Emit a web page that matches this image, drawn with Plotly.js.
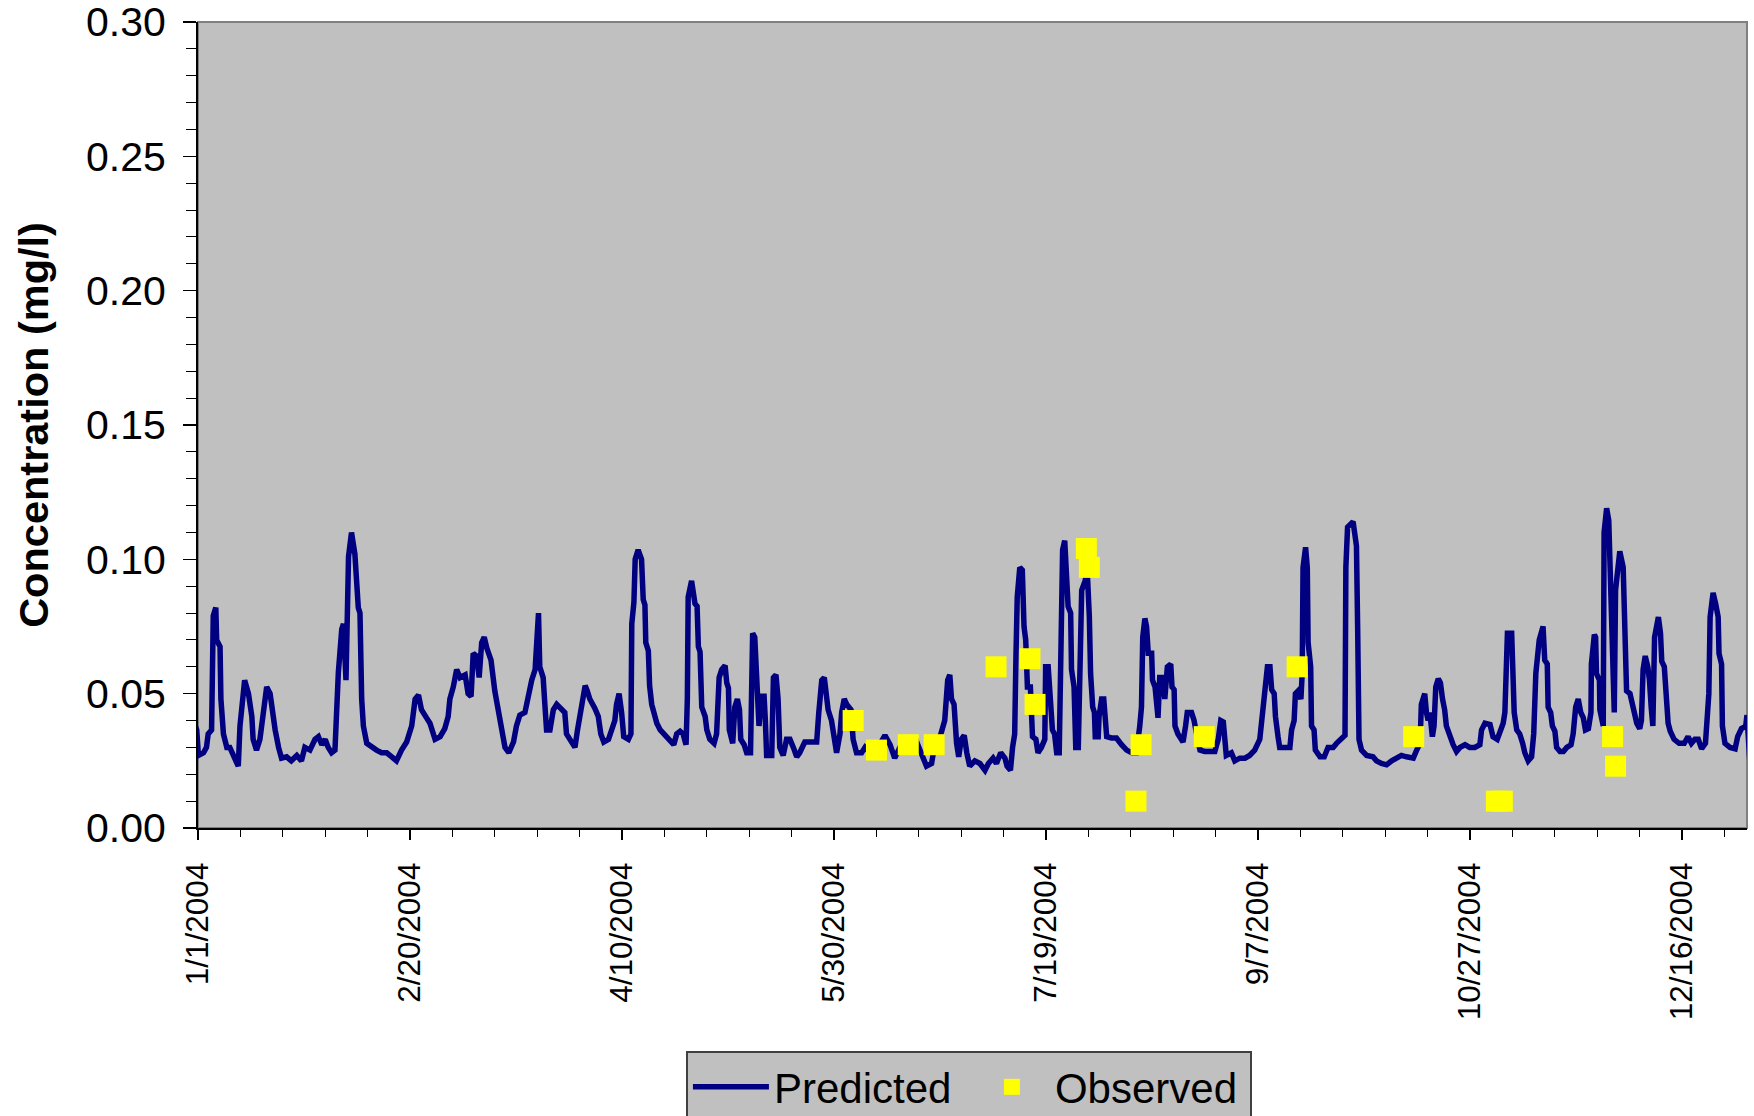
<!DOCTYPE html>
<html>
<head>
<meta charset="utf-8">
<script src="https://cdn.plot.ly/plotly-3.0.1.min.js"></script>
<style>
html,body{margin:0;padding:0;background:#ffffff;}
#chart{width:1754px;height:1116px;}
</style>
</head>
<body>
<div id="chart"></div>
<script>
// Predicted concentration: day offset from 1/1/2004 and value (mg/l)
const predDay = [
-1.9,-1.1,-0.3,0.1,1.3,2.0,2.4,3.2,3.4,3.6,4.2,4.4,5.2,5.4,6.0,6.8,7.5,8.7,9.5,9.9,
10.7,11.0,11.9,12.7,13.0,13.8,14.6,15.4,16.2,17.0,17.4,18.2,19.0,19.7,20.9,22.0,23.3,24.4,25.2,26.4,
27.6,28.4,29.2,30.0,30.7,31.5,32.3,32.7,33.1,33.9,34.3,34.9,35.5,36.2,37.0,37.8,38.2,38.6,39.0,39.8,
41.0,42.1,43.3,44.5,45.7,46.8,48.0,49.2,50.4,51.2,52.0,52.7,53.9,54.7,55.9,57.1,58.2,59.0,59.4,60.2,
61.0,61.8,63.0,63.7,64.4,64.9,65.7,66.3,66.9,67.5,68.1,69.1,70.0,70.8,71.6,72.4,73.3,74.4,75.1,75.9,
77.1,77.9,78.7,79.5,79.9,80.3,80.6,81.4,81.8,82.2,83.0,83.8,84.6,85.8,86.5,86.9,87.7,88.9,89.5,90.0,
90.9,91.3,91.8,92.4,93.6,94.4,95.0,95.7,96.8,97.5,98.3,98.7,99.3,99.9,100.4,101.5,102.1,102.3,102.8,103.1,
103.8,104.6,105.0,105.4,105.6,106.2,106.5,107.0,107.4,108.2,109.0,110.1,111.3,112.2,112.9,113.7,114.4,115.1,115.4,115.6,
116.4,116.8,117.2,117.7,118.0,118.4,118.8,119.6,120.0,120.7,121.7,122.3,122.6,122.9,123.5,124.3,124.7,125.1,125.3,126.1,
126.6,127.2,127.7,128.0,128.8,129.4,130.3,130.6,130.8,131.3,131.7,132.3,132.9,133.5,133.8,134.1,135.3,135.7,136.3,136.8,
137.2,138.0,138.8,139.6,140.4,141.2,141.9,143.1,144.7,145.9,146.4,147.1,147.7,148.0,148.6,149.4,150.0,150.6,151.4,151.8,
152.4,153.0,154.0,154.5,155.3,156.5,157.3,158.5,159.6,160.8,162.0,163.2,164.3,165.5,167.5,169.0,170.6,171.8,173.0,173.8,
175.0,176.1,176.8,177.3,177.7,178.3,178.9,179.4,180.0,180.7,181.3,182.0,183.2,184.4,185.6,186.4,187.5,188.3,189.3,190.3,
190.8,191.6,192.1,192.6,192.9,193.2,193.8,194.4,194.8,195.2,195.6,196.3,196.8,197.6,198.1,198.9,199.7,199.9,200.5,201.0,
201.5,202.0,202.5,203.1,203.4,203.9,204.4,204.8,205.2,205.8,206.0,206.6,207.0,207.6,207.9,208.4,209.2,209.7,210.2,210.5,
211.0,211.4,211.6,212.3,212.5,213.1,213.6,213.9,214.3,215.4,216.6,217.8,219.0,220.2,221.3,222.1,222.5,222.8,223.3,223.7,
224.1,224.9,225.1,225.7,226.1,226.4,226.8,227.5,228.0,228.6,229.4,229.7,230.2,230.4,231.1,231.8,232.3,232.9,233.3,234.3,
234.9,235.5,236.3,237.4,238.6,239.8,240.6,241.2,241.8,242.2,242.5,243.7,244.5,245.7,246.9,248.0,249.2,250.4,251.0,251.6,
252.2,252.8,253.2,253.8,254.1,254.7,255.1,256.3,257.5,257.9,258.5,258.8,259.4,260.1,260.4,260.6,261.2,261.6,261.8,262.4,
262.6,263.2,263.5,264.6,265.6,266.5,267.7,268.5,269.7,270.5,270.7,271.1,272.4,272.8,273.2,273.5,273.8,274.4,275.6,277.1,
277.9,279.1,280.3,281.5,282.6,283.8,285.0,286.6,287.4,288.2,288.5,289.3,289.7,290.1,290.5,291.1,291.5,291.9,292.5,293.0,
293.5,294.0,294.4,295.2,296.0,296.8,297.6,298.8,299.9,301.1,302.3,302.7,303.5,304.7,305.4,306.4,307.0,307.8,308.2,308.4,
308.8,309.8,310.0,310.4,311.0,311.7,312.4,312.9,313.7,314.5,315.0,315.5,316.3,316.8,317.2,317.6,318.2,318.4,319.0,319.4,
320.0,320.4,321.2,322.0,322.8,323.8,324.3,324.9,325.5,326.1,326.7,327.2,327.9,328.5,328.6,329.3,329.6,329.8,330.5,330.6,
331.0,331.4,331.6,332.2,332.7,333.0,333.5,334.0,334.3,334.8,335.3,336.1,336.4,336.7,336.9,337.7,338.2,338.7,339.3,340.0,
340.4,340.8,341.3,341.9,342.3,342.7,343.1,343.5,343.9,344.4,344.9,345.2,345.8,346.2,346.6,346.7,347.2,348.1,349.3,350.5,
351.4,352.2,353.0,353.8,354.6,355.5,356.0,356.3,356.6,357.3,357.9,358.5,358.7,359.3,359.5,360.1,361.3,362.5,363.1,364.0,
364.6,365.0,365.3,366.4
];
const predValue = [
0.043,0.040,0.0365,0.027,0.028,0.030,0.035,0.0365,0.054,0.079,0.082,0.070,0.0675,0.048,0.035,0.030,0.030,0.025,0.023,0.038,
0.049,0.055,0.050,0.0415,0.033,0.029,0.033,0.043,0.0525,0.050,0.045,0.0365,0.030,0.026,0.0265,0.025,0.027,0.025,0.030,0.029,
0.033,0.034,0.031,0.033,0.030,0.028,0.029,0.043,0.058,0.074,0.076,0.055,0.101,0.110,0.102,0.082,0.080,0.048,0.038,0.0315,
0.030,0.029,0.028,0.028,0.0265,0.025,0.029,0.032,0.038,0.048,0.0495,0.044,0.041,0.039,0.033,0.034,0.037,0.0415,0.048,0.0525,
0.059,0.056,0.057,0.050,0.049,0.065,0.064,0.056,0.069,0.071,0.067,0.0625,0.051,0.043,0.0365,0.030,0.028,0.032,0.038,0.042,
0.043,0.050,0.055,0.059,0.075,0.080,0.060,0.056,0.046,0.0365,0.0365,0.044,0.046,0.0445,0.043,0.035,0.033,0.030,0.0365,0.042,
0.0515,0.053,0.051,0.048,0.0445,0.0415,0.035,0.032,0.033,0.0365,0.040,0.046,0.050,0.043,0.034,0.033,0.035,0.076,0.084,0.100,
0.1035,0.100,0.085,0.083,0.069,0.066,0.053,0.046,0.043,0.039,0.0365,0.0345,0.032,0.031,0.035,0.036,0.035,0.031,0.048,0.086,
0.092,0.0885,0.0835,0.0825,0.0675,0.0655,0.045,0.0415,0.0365,0.033,0.0315,0.035,0.043,0.056,0.059,0.0605,0.054,0.052,0.0365,0.0315,
0.045,0.048,0.044,0.033,0.031,0.028,0.028,0.054,0.0725,0.071,0.055,0.038,0.049,0.049,0.040,0.027,0.027,0.056,0.057,0.048,
0.030,0.027,0.033,0.033,0.030,0.0265,0.028,0.032,0.032,0.032,0.043,0.055,0.056,0.050,0.044,0.040,0.035,0.028,0.035,0.043,
0.048,0.046,0.044,0.033,0.028,0.028,0.030,0.028,0.028,0.0315,0.0345,0.031,0.026,0.030,0.030,0.034,0.028,0.023,0.024,0.0315,
0.034,0.040,0.055,0.057,0.048,0.046,0.0315,0.0265,0.033,0.0345,0.028,0.023,0.025,0.024,0.0215,0.024,0.026,0.024,0.028,0.026,
0.023,0.0215,0.030,0.035,0.064,0.086,0.097,0.096,0.075,0.070,0.0525,0.0525,0.034,0.033,0.028,0.030,0.033,0.060,0.060,0.048,
0.0365,0.035,0.028,0.028,0.060,0.1035,0.107,0.097,0.0825,0.080,0.059,0.0525,0.030,0.030,0.064,0.0885,0.092,0.096,0.079,0.0575,
0.045,0.043,0.034,0.034,0.0415,0.048,0.048,0.0415,0.034,0.0335,0.0335,0.031,0.029,0.028,0.028,0.038,0.045,0.071,0.078,0.075,
0.065,0.065,0.055,0.0525,0.045,0.041,0.056,0.056,0.048,0.060,0.061,0.0525,0.0515,0.038,0.035,0.033,0.032,0.038,0.043,0.043,
0.040,0.035,0.029,0.0285,0.0285,0.0285,0.033,0.040,0.0395,0.030,0.027,0.028,0.025,0.026,0.026,0.027,0.029,0.033,0.043,0.0515,
0.060,0.060,0.0515,0.050,0.0415,0.034,0.030,0.030,0.030,0.0365,0.040,0.050,0.051,0.048,0.0575,0.097,0.1045,0.097,0.069,0.060,
0.038,0.0365,0.029,0.0265,0.0265,0.030,0.030,0.0315,0.0335,0.0345,0.097,0.112,0.114,0.107,0.105,0.072,0.033,0.029,0.027,0.0265,
0.025,0.024,0.0235,0.025,0.026,0.027,0.0265,0.026,0.029,0.0315,0.046,0.050,0.043,0.040,0.043,0.034,0.038,0.0525,0.0555,0.054,
0.048,0.044,0.038,0.034,0.031,0.0285,0.030,0.031,0.030,0.030,0.031,0.0365,0.039,0.0385,0.034,0.033,0.036,0.039,0.043,0.055,
0.0725,0.0725,0.060,0.043,0.0365,0.035,0.0315,0.028,0.025,0.0265,0.035,0.0575,0.070,0.0725,0.075,0.0625,0.061,0.045,0.043,0.038,
0.036,0.030,0.0285,0.0285,0.030,0.031,0.035,0.045,0.048,0.043,0.041,0.0365,0.037,0.043,0.061,0.072,0.071,0.0575,0.055,0.044,
0.039,0.038,0.110,0.119,0.1145,0.095,0.056,0.043,0.0885,0.097,0.103,0.097,0.070,0.0625,0.051,0.050,0.0465,0.043,0.039,0.037,
0.040,0.059,0.064,0.060,0.055,0.045,0.038,0.071,0.074,0.0785,0.0725,0.062,0.060,0.050,0.0475,0.039,0.036,0.033,0.0315,0.0315,
0.034,0.0315,0.033,0.033,0.0295,0.0315,0.043,0.050,0.0785,0.0875,0.0835,0.0785,0.065,0.061,0.038,0.0315,0.030,0.0295,0.034,0.037,
0.0375,0.038,0.042,0.0135
];
// Observed samples: day offset from 1/1/2004 and value (mg/l)
const obsDay = [154.5,160.0,167.5,173.6,188.2,196.2,197.4,209.5,210.2,221.2,222.4,237.3,259.2,286.7,306.2,307.6,333.6,334.3];
const obsValue = [0.040,0.029,0.031,0.031,0.060,0.063,0.046,0.104,0.097,0.010,0.031,0.034,0.060,0.034,0.010,0.010,0.034,0.023];

// Axis ticks
const xTickDates = ['2004-01-01','2004-02-20','2004-04-10','2004-05-30','2004-07-19','2004-09-07','2004-10-27','2004-12-16'];
const xTickLabels = ['1/1/2004','2/20/2004','4/10/2004','5/30/2004','7/19/2004','9/7/2004','10/27/2004','12/16/2004'];
const seriesNames = ['Predicted','Observed'];
const yTitle = 'Concentration (mg/l)';

function dayToDate(d){
  const ms = Date.UTC(2004,0,1) + d*86400000;
  return new Date(ms).toISOString().replace('T',' ').slice(0,19);
}

const FONT = '"Liberation Sans", Arial, Helvetica, sans-serif';

const traces = [
  {
    type:'scatter', mode:'lines', name:seriesNames[0],
    x: predDay.map(dayToDate), y: predValue,
    line:{color:'#000080', width:5.5},
    hoverinfo:'x+y'
  },
  {
    type:'scatter', mode:'markers', name:seriesNames[1],
    x: obsDay.map(dayToDate), y: obsValue,
    marker:{symbol:'square', size:21, color:'#FFFF00', line:{width:0}}
  }
];

const xRange = [dayToDate(0), dayToDate(365.3)];

const layout = {
  width:1754, height:1116,
  margin:{l:198, r:7, t:22, b:288, autoexpand:false},
  paper_bgcolor:'#ffffff',
  plot_bgcolor:'#C0C0C0',
  font:{family:FONT, color:'#000000'},
  showlegend:true,
  xaxis:{
    type:'date', range:xRange,
    tickmode:'array', tickvals:xTickDates, ticktext:xTickLabels,
    tickangle:-90, tickfont:{size:31.5, family:FONT},
    ticks:'outside', ticklen:10, tickwidth:1.5, tickcolor:'#000000',
    ticklabelstandoff:10, ticklabeloverflow:'allow',
    minor:{tickmode:'linear', tick0:'2004-01-01', dtick:10*86400000, ticks:'outside', ticklen:7, tickwidth:1, tickcolor:'#000000', showgrid:false},
    showline:true, linecolor:'#000000', linewidth:2,
    showgrid:false, zeroline:false, fixedrange:true
  },
  yaxis:{
    range:[0,0.30], tickmode:'linear', tick0:0, dtick:0.05, tickformat:'.2f',
    tickfont:{size:41, family:FONT},
    ticks:'outside', ticklen:13, tickwidth:1.5, tickcolor:'#000000',
    ticklabelstandoff:9, ticklabeloverflow:'allow',
    minor:{tickmode:'linear', tick0:0, dtick:0.01, ticks:'outside', ticklen:10, tickwidth:1, tickcolor:'#000000', showgrid:false},
    showline:true, linecolor:'#000000', linewidth:2,
    showgrid:false, zeroline:false, fixedrange:true,
    title:{text:yTitle, font:{size:41.5, family:FONT, weight:'bold'}, standoff:24}
  },
  xaxis2:{
    type:'date', overlaying:'x', anchor:'y', range:xRange,
    tickmode:'array', tickvals:xTickDates, showticklabels:false,
    ticks:'inside', ticklen:8, tickwidth:1.5, tickcolor:'#000000',
    showline:false, showgrid:false, zeroline:false, fixedrange:true
  },
  yaxis2:{
    overlaying:'y', anchor:'x', side:'left', range:[0,0.30],
    tickmode:'linear', tick0:0, dtick:0.05, showticklabels:false,
    ticks:'inside', ticklen:13, tickwidth:1.5, tickcolor:'#000000',
    showline:false, showgrid:false, zeroline:false, fixedrange:true
  },
  shapes:[
    {type:'rect', xref:'paper', yref:'paper', x0:0, x1:1, y0:0, y1:1,
     line:{color:'#808080', width:2}, fillcolor:'rgba(0,0,0,0)', layer:'below'}
  ],
  legend:{
    orientation:'h', x:0.4977, xanchor:'center', y:-0.2767, yanchor:'top',
    bgcolor:'#C0C0C0', bordercolor:'#404040', borderwidth:2,
    font:{size:42, family:FONT, color:'#000000'},
    itemwidth:76, entrywidth:190
  }
};

Plotly.newPlot('chart', traces, layout, {displayModeBar:false, staticPlot:true});
</script>
</body>
</html>
